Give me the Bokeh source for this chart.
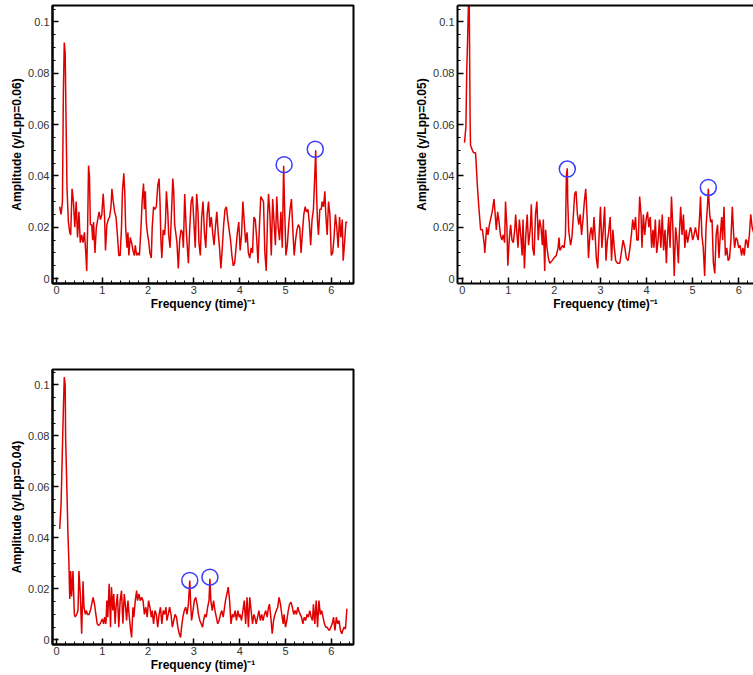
from bokeh.plotting import figure
from bokeh.layouts import column, row
from bokeh.models import FixedTicker, Range1d, CustomJSTickFormatter, LinearAxis
from bokeh.embed import file_html
from bokeh.resources import INLINE

# ---------------- data ----------------
x_major_ticks = [0, 1, 2, 3, 4, 5, 6]
x_minor_ticks = [0.2, 0.4, 0.6, 0.8, 1.2, 1.4, 1.6, 1.8, 2.2, 2.4, 2.6, 2.8,
                 3.2, 3.4, 3.6, 3.8, 4.2, 4.4, 4.6, 4.8, 5.2, 5.4, 5.6, 5.8, 6.2, 6.4]
y_major_ticks = [0, 0.02, 0.04, 0.06, 0.08, 0.1]
y_minor_ticks = [0.005, 0.01, 0.015, 0.025, 0.03, 0.035, 0.045, 0.05, 0.055,
                 0.065, 0.07, 0.075, 0.085, 0.09, 0.095, 0.105]

x_title = "Frequency (time)\u207b\u00b9"
y_titles = ["Amplitude (y/Lpp=0.06)", "Amplitude (y/Lpp=0.05)", "Amplitude (y/Lpp=0.04)"]

# panel 1 : y/Lpp = 0.06
f06 = [0.07,0.10,0.13,0.15,0.17,0.19,0.21,0.23,0.26,0.29,
       0.31,0.34,0.37,0.40,0.43,0.46,0.49,0.52,0.55,0.58,
       0.61,0.64,0.66,0.68,0.70,0.72,0.74,0.77,0.79,0.81,
       0.84,0.87,0.90,0.93,0.96,0.99,1.02,1.05,1.07,1.10,
       1.13,1.16,1.19,1.21,1.24,1.27,1.30,1.33,1.36,1.39,
       1.42,1.44,1.47,1.49,1.51,1.54,1.56,1.58,1.61,1.64,
       1.67,1.70,1.72,1.75,1.78,1.81,1.84,1.87,1.90,1.92,
       1.94,1.96,1.99,2.01,2.04,2.07,2.09,2.12,2.15,2.18,
       2.21,2.24,2.26,2.28,2.30,2.33,2.36,2.38,2.40,2.43,
       2.45,2.48,2.51,2.54,2.56,2.58,2.61,2.63,2.66,2.69,
       2.72,2.75,2.77,2.80,2.83,2.85,2.88,2.91,2.94,2.97,
       3.00,3.03,3.06,3.09,3.11,3.14,3.17,3.20,3.23,3.26,
       3.29,3.32,3.35,3.38,3.41,3.44,3.47,3.50,3.53,3.56,
       3.59,3.62,3.65,3.68,3.71,3.74,3.77,3.80,3.83,3.86,
       3.89,3.92,3.95,3.98,4.01,4.04,4.07,4.10,4.13,4.16,
       4.19,4.22,4.25,4.28,4.31,4.34,4.37,4.40,4.43,4.46,
       4.49,4.52,4.55,4.58,4.61,4.63,4.66,4.69,4.72,4.75,
       4.78,4.81,4.84,4.87,4.90,4.93,4.96,4.98,5.01,5.04,
       5.07,5.10,5.13,5.16,5.19,5.22,5.25,5.28,5.31,5.34,
       5.37,5.40,5.43,5.46,5.49,5.52,5.55,5.58,5.61,5.63,
       5.66,5.68,5.70,5.72,5.75,5.78,5.80,5.83,5.86,5.88,
       5.91,5.94,5.97,6.00,6.03,6.06,6.09,6.12,6.15,6.18,
       6.21,6.24,6.26,6.29,6.32,6.35]
a06 = [0.028,0.025,0.030,0.072,0.092,0.088,0.060,0.035,0.022,0.018,
       0.017,0.035,0.030,0.020,0.030,0.016,0.026,0.014,0.017,0.014,
       0.018,0.010,0.003,0.020,0.044,0.040,0.021,0.021,0.015,0.022,
       0.010,0.020,0.023,0.026,0.023,0.025,0.033,0.024,0.011,0.021,
       0.023,0.024,0.028,0.035,0.030,0.026,0.024,0.017,0.009,0.009,
       0.020,0.034,0.041,0.034,0.020,0.012,0.018,0.009,0.016,0.014,
       0.011,0.009,0.013,0.009,0.010,0.009,0.018,0.030,0.037,0.027,
       0.034,0.022,0.017,0.015,0.010,0.008,0.020,0.028,0.027,0.028,
       0.036,0.039,0.030,0.015,0.008,0.019,0.017,0.022,0.034,0.026,
       0.017,0.012,0.025,0.039,0.034,0.021,0.017,0.014,0.004,0.015,
       0.019,0.018,0.012,0.033,0.020,0.014,0.006,0.020,0.030,0.032,
       0.022,0.012,0.033,0.026,0.014,0.009,0.024,0.030,0.018,0.012,
       0.025,0.030,0.020,0.024,0.018,0.013,0.020,0.026,0.018,0.012,
       0.004,0.012,0.021,0.027,0.028,0.023,0.019,0.015,0.009,0.005,
       0.006,0.012,0.018,0.022,0.011,0.017,0.030,0.022,0.014,0.018,
       0.010,0.008,0.012,0.010,0.024,0.023,0.016,0.006,0.020,0.032,
       0.031,0.030,0.010,0.003,0.025,0.033,0.025,0.009,0.031,0.022,
       0.013,0.032,0.020,0.015,0.026,0.012,0.044,0.028,0.009,0.013,
       0.021,0.027,0.031,0.019,0.009,0.015,0.019,0.021,0.020,0.010,
       0.018,0.025,0.028,0.026,0.027,0.022,0.013,0.023,0.027,0.036,
       0.050,0.032,0.022,0.017,0.027,0.027,0.030,0.028,0.034,0.025,
       0.017,0.030,0.025,0.009,0.010,0.016,0.025,0.020,0.012,0.024,
       0.016,0.023,0.007,0.014,0.022,0.022]
peaks06_f = [4.97, 5.65]
peaks06_a = [0.0444, 0.0504]

# panel 2 : y/Lpp = 0.05
f05 = [0.05,0.08,0.10,0.12,0.13,0.15,0.17,0.18,0.22,0.25,
       0.29,0.33,0.36,0.40,0.44,0.48,0.49,0.53,0.56,0.59,
       0.65,0.69,0.72,0.74,0.77,0.80,0.83,0.86,0.89,0.92,
       0.94,0.97,0.99,1.02,1.05,1.08,1.11,1.14,1.16,1.19,
       1.21,1.24,1.27,1.30,1.32,1.35,1.38,1.41,1.44,1.48,
       1.50,1.53,1.56,1.59,1.62,1.65,1.68,1.71,1.74,1.76,
       1.79,1.81,1.84,1.87,1.90,1.95,1.99,2.04,2.08,2.10,
       2.12,2.15,2.18,2.21,2.24,2.26,2.28,2.29,2.31,2.35,
       2.38,2.41,2.44,2.47,2.50,2.53,2.56,2.59,2.62,2.65,
       2.68,2.71,2.74,2.77,2.80,2.83,2.86,2.89,2.91,2.94,
       2.97,3.00,3.03,3.06,3.09,3.12,3.15,3.17,3.21,3.24,
       3.27,3.30,3.33,3.37,3.42,3.46,3.49,3.53,3.56,3.60,
       3.64,3.67,3.70,3.73,3.76,3.79,3.82,3.85,3.88,3.90,
       3.93,3.96,3.99,4.02,4.05,4.08,4.11,4.14,4.16,4.19,
       4.22,4.25,4.28,4.31,4.34,4.37,4.40,4.43,4.45,4.48,
       4.51,4.54,4.57,4.60,4.63,4.66,4.69,4.71,4.74,4.77,
       4.80,4.83,4.86,4.89,4.92,4.95,4.97,5.00,5.03,5.06,
       5.09,5.12,5.15,5.17,5.20,5.23,5.26,5.29,5.32,5.34,
       5.37,5.39,5.42,5.45,5.48,5.51,5.54,5.57,5.60,5.63,
       5.65,5.68,5.71,5.74,5.77,5.80,5.83,5.86,5.89,5.91,
       5.94,5.97,6.00,6.03,6.06,6.09,6.12,6.15,6.17,6.20,
       6.23,6.26,6.29,6.32,6.35]
a05 = [0.053,0.059,0.082,0.095,0.103,0.115,0.065,0.052,0.050,0.049,
       0.049,0.036,0.028,0.019,0.019,0.013,0.010,0.020,0.017,0.021,
       0.026,0.031,0.024,0.019,0.026,0.022,0.017,0.015,0.017,0.014,
       0.030,0.020,0.005,0.015,0.021,0.015,0.014,0.019,0.025,0.017,
       0.012,0.023,0.017,0.009,0.023,0.004,0.017,0.025,0.013,0.020,
       0.029,0.012,0.009,0.025,0.030,0.015,0.023,0.020,0.013,0.023,
       0.003,0.019,0.012,0.008,0.006,0.007,0.008,0.009,0.012,0.016,
       0.011,0.012,0.013,0.012,0.017,0.040,0.043,0.030,0.019,0.013,
       0.016,0.024,0.033,0.034,0.025,0.021,0.025,0.017,0.023,0.030,
       0.035,0.024,0.008,0.017,0.020,0.015,0.024,0.015,0.008,0.004,
       0.017,0.028,0.012,0.019,0.028,0.007,0.015,0.017,0.024,0.007,
       0.019,0.012,0.007,0.006,0.006,0.011,0.015,0.012,0.008,0.007,
       0.012,0.017,0.023,0.019,0.024,0.015,0.015,0.032,0.025,0.012,
       0.025,0.017,0.023,0.026,0.020,0.024,0.012,0.019,0.012,0.023,
       0.010,0.015,0.023,0.012,0.025,0.011,0.019,0.006,0.015,0.024,
       0.012,0.032,0.020,0.001,0.020,0.015,0.006,0.017,0.028,0.017,
       0.025,0.012,0.019,0.014,0.017,0.020,0.019,0.015,0.017,0.020,
       0.017,0.015,0.024,0.032,0.017,0.012,0.001,0.020,0.028,0.035,
       0.025,0.022,0.023,0.006,0.002,0.017,0.021,0.008,0.017,0.024,
       0.015,0.028,0.009,0.012,0.007,0.008,0.015,0.028,0.017,0.012,
       0.016,0.015,0.012,0.013,0.009,0.012,0.009,0.015,0.015,0.012,
       0.017,0.025,0.020,0.018,0.016]
peaks05_f = [2.28, 5.34]
peaks05_a = [0.0427, 0.0355]

# panel 3 : y/Lpp = 0.04
f04 = [0.07,0.10,0.13,0.15,0.17,0.19,0.20,0.23,0.25,0.27,
       0.29,0.31,0.33,0.36,0.39,0.41,0.44,0.47,0.49,0.52,
       0.55,0.58,0.60,0.63,0.65,0.68,0.71,0.74,0.77,0.80,
       0.83,0.86,0.89,0.92,0.95,0.97,1.00,1.03,1.05,1.08,
       1.10,1.12,1.15,1.18,1.20,1.23,1.25,1.28,1.30,1.33,
       1.36,1.39,1.42,1.45,1.48,1.51,1.53,1.56,1.59,1.62,
       1.64,1.67,1.69,1.72,1.75,1.77,1.80,1.83,1.86,1.89,
       1.92,1.95,1.98,2.01,2.04,2.07,2.09,2.12,2.15,2.18,
       2.21,2.24,2.27,2.30,2.33,2.36,2.39,2.41,2.44,2.47,
       2.50,2.53,2.56,2.59,2.62,2.65,2.68,2.71,2.73,2.76,
       2.79,2.82,2.85,2.88,2.91,2.93,2.95,2.98,3.01,3.04,
       3.07,3.10,3.13,3.16,3.19,3.21,3.24,3.27,3.30,3.33,
       3.35,3.37,3.40,3.43,3.46,3.49,3.52,3.55,3.58,3.61,
       3.64,3.67,3.69,3.72,3.75,3.78,3.81,3.84,3.87,3.90,
       3.93,3.96,3.99,4.01,4.04,4.07,4.10,4.13,4.16,4.19,
       4.22,4.25,4.28,4.31,4.33,4.36,4.39,4.42,4.45,4.48,
       4.51,4.54,4.57,4.60,4.63,4.65,4.68,4.71,4.74,4.77,
       4.80,4.83,4.86,4.89,4.92,4.95,4.97,5.00,5.03,5.06,
       5.09,5.12,5.15,5.18,5.21,5.24,5.27,5.29,5.32,5.35,
       5.38,5.41,5.44,5.47,5.50,5.53,5.56,5.59,5.61,5.64,
       5.67,5.70,5.73,5.76,5.79,5.82,5.85,5.88,5.91,5.93,
       5.96,5.99,6.02,6.05,6.08,6.11,6.14,6.17,6.20,6.23,
       6.25,6.28,6.31,6.34]
a04 = [0.0435,0.053,0.0755,0.090,0.103,0.100,0.079,0.057,0.0415,0.031,
       0.016,0.027,0.017,0.027,0.010,0.009,0.010,0.0115,0.027,0.018,
       0.0024,0.023,0.0128,0.010,0.0115,0.010,0.010,0.0115,0.014,0.0167,
       0.014,0.010,0.0063,0.0056,0.0063,0.007,0.0082,0.0063,0.0089,0.0063,
       0.0154,0.0089,0.022,0.005,0.0207,0.0115,0.018,0.0063,0.0128,0.018,
       0.005,0.0154,0.0193,0.0063,0.018,0.0128,0.0076,0.0154,0.0089,0.0037,
       0.001,0.0128,0.0089,0.0154,0.0193,0.0154,0.018,0.0154,0.0167,0.0154,
       0.010,0.0128,0.0089,0.0154,0.0128,0.0089,0.0115,0.0063,0.0115,0.010,
       0.005,0.010,0.0128,0.0063,0.0115,0.010,0.0128,0.0076,0.010,0.0128,
       0.010,0.005,0.0076,0.010,0.0089,0.005,0.0024,0.001,0.005,0.0089,
       0.0115,0.0128,0.010,0.014,0.0233,0.014,0.0076,0.0115,0.0154,0.0167,
       0.014,0.010,0.0076,0.0063,0.005,0.0076,0.010,0.0089,0.0128,0.0154,
       0.0240,0.0154,0.0115,0.0154,0.0115,0.0089,0.0063,0.0076,0.010,0.0115,
       0.0089,0.0128,0.0154,0.018,0.0207,0.0154,0.0063,0.010,0.0089,0.0115,
       0.0076,0.0115,0.0089,0.010,0.0076,0.0115,0.0154,0.0063,0.0167,0.005,
       0.0167,0.0115,0.0063,0.010,0.0089,0.0063,0.0089,0.0115,0.0076,0.010,
       0.0076,0.010,0.0115,0.0089,0.0128,0.014,0.0089,0.0024,0.0076,0.010,
       0.0115,0.0128,0.0167,0.014,0.010,0.0063,0.010,0.005,0.0076,0.0115,
       0.014,0.0148,0.0128,0.010,0.0115,0.010,0.0128,0.0115,0.010,0.0089,
       0.0063,0.0089,0.0076,0.010,0.0089,0.0115,0.0089,0.0076,0.014,0.0063,
       0.0154,0.005,0.0154,0.010,0.0115,0.0089,0.0063,0.005,0.005,0.0043,
       0.0037,0.005,0.0063,0.0089,0.0037,0.0089,0.0063,0.0076,0.0037,0.0024,
       0.0037,0.005,0.0043,0.0122]
peaks04_f = [2.91, 3.35]
peaks04_a = [0.0233, 0.0246]

# ---------------- styling ----------------
LINE_RED = "#e00000"
CIRCLE_BLUE = "#3c3cff"
FONT = "Liberation Sans"

tick_fmt = CustomJSTickFormatter(code="return String(Number(tick.toFixed(4)));")


def make_panel(freq, amp, pk_f, pk_a, ytitle, xr, yr, fw, fh, borders, full_outline=True):
    left, right, top, bottom = borders
    p = figure(frame_width=fw, frame_height=fh,
               x_range=Range1d(*xr), y_range=Range1d(*yr),
               output_backend="svg", toolbar_location=None,
               min_border_left=left, min_border_right=right,
               min_border_top=top, min_border_bottom=bottom,
               background_fill_color="white", border_fill_color="white")
    p.grid.visible = False
    if full_outline:
        p.outline_line_color = "black"
        p.outline_line_width = 2
        p.outline_line_alpha = 1
    else:
        # right edge falls outside the picture: draw only the top edge,
        # as a bare axis line with no ticks and no labels
        p.outline_line_color = None
        top_axis = LinearAxis(ticker=FixedTicker(ticks=[], minor_ticks=[]),
                              axis_line_color="black", axis_line_width=2,
                              major_tick_line_color=None, minor_tick_line_color=None,
                              major_tick_in=0, major_tick_out=0,
                              minor_tick_in=0, minor_tick_out=0,
                              major_label_standoff=0)
        p.add_layout(top_axis, "above")

    p.below[0].ticker = FixedTicker(ticks=x_major_ticks, minor_ticks=x_minor_ticks)
    p.left[0].ticker = FixedTicker(ticks=y_major_ticks, minor_ticks=y_minor_ticks)
    for ax in (p.below[0], p.left[0]):
        ax.formatter = tick_fmt
        ax.axis_line_color = "black"
        ax.axis_line_width = 2
        ax.major_tick_in = 6
        ax.major_tick_out = 0
        ax.minor_tick_in = 3
        ax.minor_tick_out = 0
        ax.major_tick_line_color = "black"
        ax.major_tick_line_width = 1.5
        ax.minor_tick_line_color = "black"
        ax.minor_tick_line_width = 1
        ax.major_label_text_font = FONT
        ax.major_label_text_font_size = "11px"
        ax.major_label_text_color = "#333333"
        ax.axis_label_text_font = FONT
        ax.axis_label_text_font_style = "bold"
        ax.axis_label_text_font_size = "12px"
        ax.axis_label_text_color = "black"
    p.below[0].major_label_standoff = 2
    p.below[0].axis_label_standoff = 0
    p.left[0].major_label_standoff = 3
    p.left[0].axis_label_standoff = 1
    p.below[0].axis_label = x_title
    p.left[0].axis_label = ytitle

    p.line(freq, amp, line_color=LINE_RED, line_width=1.5)
    p.scatter(pk_f, pk_a, marker="circle", size=16, fill_color=None,
              line_color=CIRCLE_BLUE, line_width=1.5)
    return p


p1 = make_panel(f06, a06, peaks06_f, peaks06_a, y_titles[0],
                (-0.087, 6.485), (-0.0019, 0.1064), 301, 278, (52, 52, 5, 40))
p2 = make_panel(f05, a05, peaks05_f, peaks05_a, y_titles[1],
                (-0.102, 6.32), (-0.0019, 0.1064), 296, 278, (52, 0, 5, 40),
                full_outline=False)
p3 = make_panel(f04, a04, peaks04_f, peaks04_a, y_titles[2],
                (-0.087, 6.485), (-0.0018, 0.106), 301, 275, (52, 52, 46, 31))

layout = column(row(p1, p2, spacing=0), p3, spacing=0)

open("out.html", "w").write(file_html(layout, INLINE))
